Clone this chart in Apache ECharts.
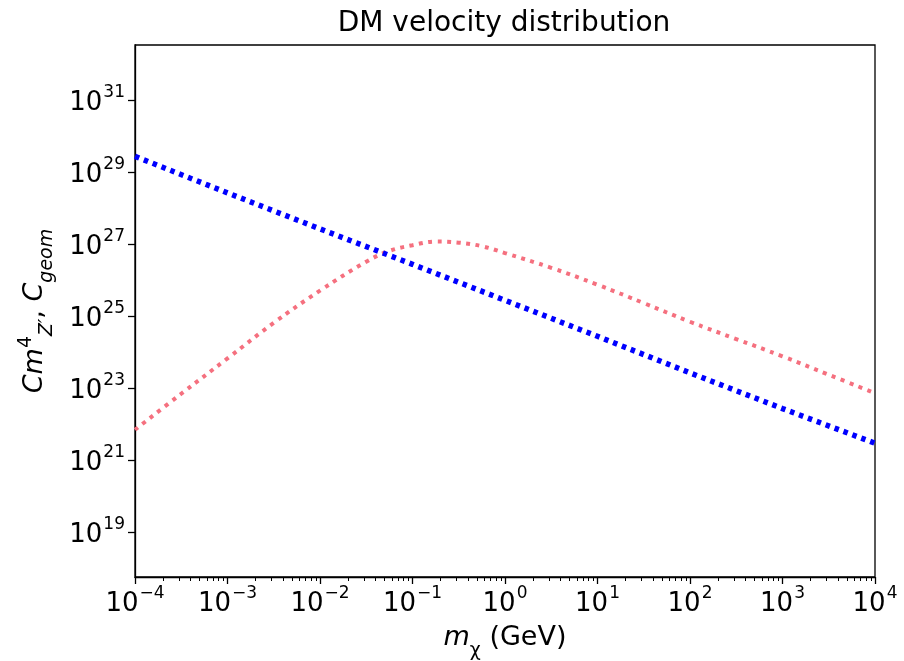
<!DOCTYPE html>
<html>
<head>
<meta charset="utf-8">
<script src="https://cdn.jsdelivr.net/npm/echarts@6/dist/echarts.min.js"></script>
<style>
  html, body { margin: 0; padding: 0; background: #fff; }
  #chart { width: 904px; height: 661px; }
</style>
</head>
<body>
<div id="chart"></div>
<script>
// DM mass m_chi in GeV
const massGeom = [1e-4, 1e-3, 1e-2, 1e-1, 1, 10, 100, 1000, 1e4];
const cGeom = [2.8e29, 2.7e28, 2.7e27, 2.8e26, 2.8e25, 2.8e24, 2.7e23, 2.75e22, 3.0e21];

const massZ = [1e-4, 3.16e-4, 1e-3, 3.16e-3, 1e-2, 3.16e-2, 5.62e-2, 0.1, 0.178, 0.316, 0.562,
  1, 3.16, 10, 31.6, 100, 316, 1000, 3162, 1e4];
const cMz4 = [7.1e21, 7.1e22, 6.8e23, 6.6e24, 5.2e25, 3.3e26, 6.6e26, 9.5e26, 1.2e27, 1.12e27, 8.9e26,
  5.75e26, 2.24e26, 7.6e25, 2.35e25, 7.1e24, 2.35e24, 7.8e23, 2.4e23, 7.4e22];

// tick exponents
const xTickExp = [-4, -3, -2, -1, 0, 1, 2, 3, 4];
const yTickExp = [19, 21, 23, 25, 27, 29, 31];

const FONT = "DejaVu Sans";
const minorX = [];
for (let e = -4; e < 4; e++) {
  for (let k = 2; k <= 9; k++) minorX.push(e + Math.log10(k));
}

function pow10Label(v) {
  const n = Math.round(v);
  const s = n < 0 ? "\u2212" + (-n) : String(n);
  return "{b|10}{s|" + s + "}";
}
const labelRich = {
  b: { fontFamily: FONT, fontSize: 26, color: "#000", lineHeight: 32, verticalAlign: "bottom" },
  s: { fontFamily: FONT, fontSize: 17, color: "#000", lineHeight: 32, verticalAlign: "top", padding: [0, 0, 0, 1] }
};

const toLog = (xs, ys) => xs.map((m, i) => [Math.log10(m), Math.log10(ys[i])]);

const chart = echarts.init(document.getElementById("chart"));
chart.setOption({
  animation: false,
  backgroundColor: "#fff",
  title: {
    text: "DM velocity distribution",
    left: 499,
    textAlign: "center",
    top: 5,
    textStyle: { fontFamily: FONT, fontSize: 28, fontWeight: "normal", color: "#000" }
  },
  grid: {
    left: 135, right: 29, top: 45, bottom: 84,
    containLabel: false,
    outerBoundsMode: "none",
    show: true, borderColor: "#000", borderWidth: 1.3
  },
  xAxis: [
    {
      type: "value", min: -4, max: 4, interval: 1,
      axisLine: { show: true, onZero: false, lineStyle: { color: "#000", width: 1.3 } },
      axisTick: { show: true, length: 7, lineStyle: { color: "#000", width: 1.3 } },
      splitLine: { show: false },
      axisLabel: { margin: 8, formatter: pow10Label, rich: labelRich },
      name: "{i|m}{sub|\u03c7}{n| (GeV)}",
      nameLocation: "middle",
      nameGap: 44,
      nameTextStyle: {
        rich: {
          i: { fontFamily: FONT, fontStyle: "italic", fontSize: 27, color: "#000", lineHeight: 34 },
          sub: { fontFamily: FONT, fontSize: 19, color: "#000", lineHeight: 34, verticalAlign: "bottom", padding: [0, 0, -6, 0] },
          n: { fontFamily: FONT, fontSize: 27, color: "#000", lineHeight: 34 }
        }
      }
    },
    {
      type: "value", min: -4, max: 4, position: "bottom",
      axisLine: { show: false, onZero: false },
      axisTick: { show: true, length: 4, customValues: minorX, lineStyle: { color: "#000", width: 1 } },
      axisLabel: { show: false },
      splitLine: { show: false }
    }
  ],
  yAxis: {
    type: "value", min: 17.76, max: 32.54,
    axisLine: { show: true, onZero: false, lineStyle: { color: "#000", width: 1.3 } },
    axisTick: { show: true, length: 7, customValues: yTickExp, lineStyle: { color: "#000", width: 1.3 } },
    splitLine: { show: false },
    axisLabel: { margin: 10, customValues: yTickExp, formatter: pow10Label, rich: labelRich },
    name: "{i|Cm}{sup|4}{sub|Z\u2032}{n|, }{i|C}{sub|geom}",
    nameLocation: "middle",
    nameRotate: 90,
    nameGap: 82,
    nameTextStyle: {
      rich: {
        i: { fontFamily: FONT, fontStyle: "italic", fontSize: 27, color: "#000", lineHeight: 36 },
        sup: { fontFamily: FONT, fontSize: 19, color: "#000", lineHeight: 36, verticalAlign: "top" },
        sub: { fontFamily: FONT, fontStyle: "italic", fontSize: 19, color: "#000", lineHeight: 36, verticalAlign: "bottom", padding: [0, 0, -4, 0] },
        n: { fontFamily: FONT, fontSize: 27, color: "#000", lineHeight: 36 }
      }
    }
  },
  series: [
    {
      name: "C m_Z'^4",
      type: "line",
      data: toLog(massZ, cMz4),
      smooth: 0.4,
      showSymbol: false,
      lineStyle: { color: "#f5707f", width: 4, type: [4, 5.5], cap: "butt" },
      z: 2
    },
    {
      name: "C_geom",
      type: "line",
      data: toLog(massGeom, cGeom),
      showSymbol: false,
      lineStyle: { color: "#0000ff", width: 5.5, type: [4.5, 5], cap: "butt" },
      z: 3
    }
  ]
});
</script>
</body>
</html>
